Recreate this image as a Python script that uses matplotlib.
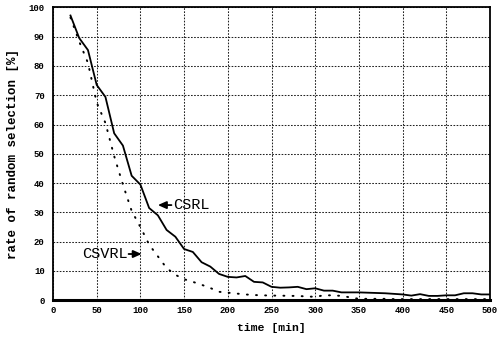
import numpy as np
import matplotlib
matplotlib.use("Agg")
import matplotlib.pyplot as plt

plt.rcParams['font.family'] = ['Liberation Mono', 'DejaVu Sans Mono']

# time axis (minutes), one value every 10 min
time_min = list(range(20, 501, 10))

# CSRL: solid curve
csrl = [97.2, 89.5, 85.4, 73.5, 69.4, 57.0, 52.8, 42.5, 39.5, 31.5,
        29.0, 24.0, 21.7, 17.5, 16.5, 13.0, 11.5, 9.0, 8.0, 7.8,
        8.3, 6.3, 6.1, 4.6, 4.3, 4.4, 4.6, 3.8, 4.1, 3.3,
        3.3, 2.7, 2.7, 2.7, 2.6, 2.5, 2.4, 2.2, 2.0, 1.6,
        2.1, 1.5, 1.5, 1.7, 1.7, 2.4, 2.4, 2.0, 2.0]

# CSVRL: dotted curve
csvrl = [96.5, 88.3, 81.0, 67.5, 60.5, 49.2, 39.5, 30.5, 25.0, 19.0,
         15.0, 11.0, 8.7, 7.2, 6.3, 5.3, 4.2, 2.9, 2.6, 2.3,
         2.0, 1.8, 1.7, 1.6, 1.6, 1.5, 1.5, 1.3, 1.2, 1.7,
         1.7, 1.5, 1.0, 0.5, 0.5, 0.5, 0.5, 0.4, 0.4, 0.4,
         0.4, 0.4, 0.4, 0.4, 0.4, 0.4, 0.4, 0.4, 0.4]

fig = plt.figure(figsize=(4.97, 3.37), dpi=100)
ax = fig.add_axes([53 / 497, 1 - 300.3 / 337, 437 / 497, 293 / 337])

ax.plot(time_min, csrl, color='black', lw=1.3)
ax.plot(time_min, csvrl, color='black', lw=1.4, linestyle=(0, (0.5, 4.2)),
        dash_capstyle='round')

ax.set_xlim(0, 500)
ax.set_ylim(0, 100)
ax.set_xticks(np.arange(0, 501, 50))
ax.set_yticks(np.arange(0, 101, 10))
ax.grid(True, color='#222222', linestyle=(0, (1.6, 1.4)), linewidth=0.75)
ax.tick_params(length=0, labelsize=6.5)
ax.tick_params(axis='y', pad=6)
ax.tick_params(axis='x', pad=4)
for lab in ax.get_xticklabels() + ax.get_yticklabels():
    lab.set_fontweight('bold')

for side in ['left', 'right', 'top']:
    ax.spines[side].set_linewidth(1.3)
ax.spines['bottom'].set_linewidth(2.2)

ax.set_xlabel('time [min]', fontsize=8.2, fontweight='bold', labelpad=6)
ax.set_ylabel('rate of random selection [%]', fontsize=9, fontweight='bold',
              labelpad=7)

# labels with short arrows pointing at the curves
arrow = dict(arrowstyle='-|>,head_length=0.45,head_width=0.2', color='black',
             lw=1.3, shrinkA=0, shrinkB=0, mutation_scale=11)
ax.annotate('', xy=(120.0, 32.5), xytext=(135.5, 32.5), arrowprops=arrow)
ax.text(137.5, 32.5, 'CSRL', fontsize=11, ha='left', va='center')
ax.annotate('', xy=(101.5, 15.8), xytext=(86.5, 15.8), arrowprops=arrow)
ax.text(85.5, 15.8, 'CSVRL', fontsize=11, ha='right', va='center')

fig.savefig('out.png', dpi=100)
